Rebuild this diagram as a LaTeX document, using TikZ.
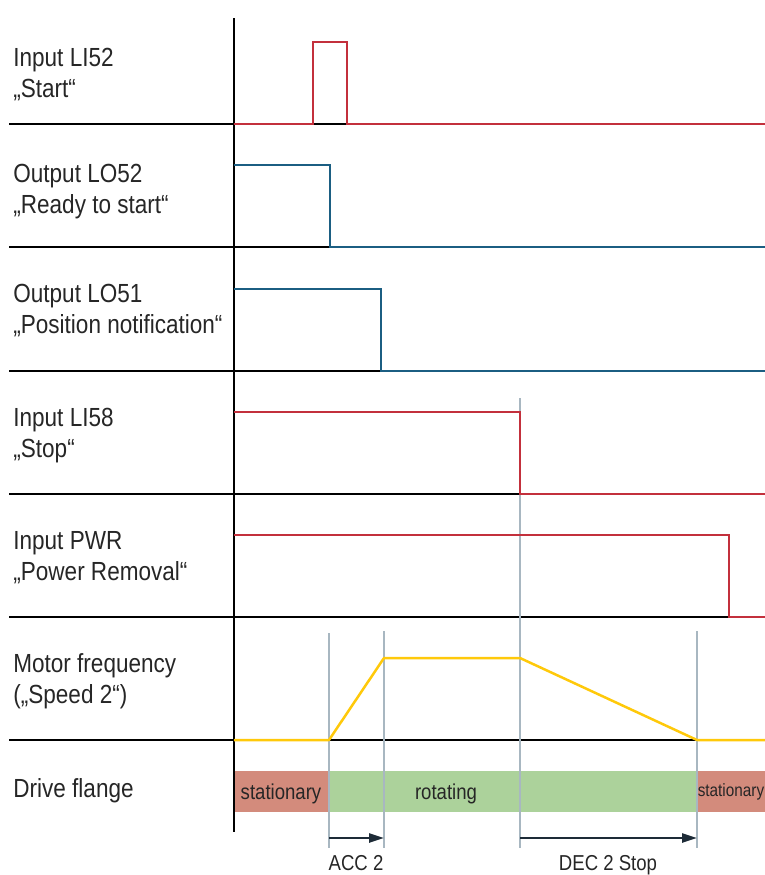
\documentclass[tikz,border=0pt]{standalone}
\usepackage{fontspec}
\setmainfont{Liberation Sans}[FakeStretch=0.86]
\usetikzlibrary{arrows.meta}
\definecolor{sigred}{HTML}{C3303C}
\definecolor{sigblue}{HTML}{1B5E82}
\definecolor{sigyellow}{HTML}{FFC90A}
\definecolor{guide}{HTML}{A8B7C1}
\definecolor{barred}{HTML}{D38B7C}
\definecolor{bargreen}{HTML}{ACD29B}
\definecolor{arrowc}{HTML}{1D2B37}
\definecolor{txt}{HTML}{262626}
\begin{document}
\begin{tikzpicture}[x=0.5pt,y=-0.5pt,
 axisline/.style={black,line width=1.4pt},
 sig/.style={line width=1.25pt},
 guideline/.style={guide,line width=1.2pt},
 rowlabel/.style={anchor=base west,inner sep=0pt,text=txt,font=\fontsize{13.1}{15}\selectfont},
 small/.style={anchor=base,inner sep=0pt,text=txt,font=\fontsize{10.8}{12}\selectfont},
 spanarrow/.style={arrowc,line width=1.3pt,-{Triangle[length=7.5pt,width=4.5pt]}},
]
\useasboundingbox (0,0) rectangle (765,875);
% drive flange bars
\fill[barred] (234,771) rectangle (329,812);
\fill[bargreen] (329,771) rectangle (697,812);
\fill[barred] (697,771) rectangle (765,812);
% row separators and time axis
\foreach \y in {124,247,371,494,617,740} \draw[axisline] (9,\y) -- (765,\y);
\draw[axisline] (234,18) -- (234,832);
% guide lines
\draw[guideline] (329,633) -- (329,848);
\draw[guideline] (384,631) -- (384,848);
\draw[guideline] (520,398) -- (520,848);
\draw[guideline] (697,631) -- (697,848);
% signals
\draw[sig,sigred] (234,124) -- (313,124) -- (313,42) -- (347,42) -- (347,124) -- (765,124);
\draw[sig,sigblue] (234,165) -- (330,165) -- (330,247) -- (765,247);
\draw[sig,sigblue] (234,289) -- (381,289) -- (381,371) -- (765,371);
\draw[sig,sigred] (234,412) -- (520,412) -- (520,494) -- (765,494);
\draw[sig,sigred] (234,535) -- (729,535) -- (729,617) -- (765,617);
\draw[sig,sigyellow,line join=round] (234,740) -- (329,740) -- (384,658) -- (520,658) -- (697,740) -- (765,740);
% row labels
\node[rowlabel] (l1a) at (13,66) {Input LI52};
\node[rowlabel] (l1b) at (13,97) {„Start“};
\node[rowlabel] (l2a) at (13,182) {Output LO52};
\node[rowlabel] (l2b) at (13,213) {„Ready to start“};
\node[rowlabel] (l3a) at (13,302) {Output LO51};
\node[rowlabel] (l3b) at (13,333) {„Position notification“};
\node[rowlabel] (l4a) at (13,426) {Input LI58};
\node[rowlabel] (l4b) at (13,457) {„Stop“};
\node[rowlabel] (l5a) at (13,549) {Input PWR};
\node[rowlabel] (l5b) at (13,580) {„Power Removal“};
\node[rowlabel] (l6a) at (13,672) {Motor frequency};
\node[rowlabel] (l6b) at (13,703) {(„Speed 2“)};
\node[rowlabel] (l7a) at (13,797) {Drive flange};
% bar labels
\node[small] (st1) at (281,799) {stationary};
\node[small] (rot) at (446,799) {rotating};
\node[small,font=\fontsize{8.9}{10}\selectfont] (st2) at (731,796) {stationary};
% spans
\coordinate (a1) at (329,838);
\coordinate (a2) at (384,838);
\coordinate (d1) at (520,838);
\coordinate (d2) at (697,838);
\draw[spanarrow] (a1) -- (a2);
\draw[spanarrow] (d1) -- (d2);
\node[small] (acc) at (356,870) {ACC 2};
\node[small] (dec) at (608,870) {DEC 2 Stop};
\end{tikzpicture}
\end{document}
